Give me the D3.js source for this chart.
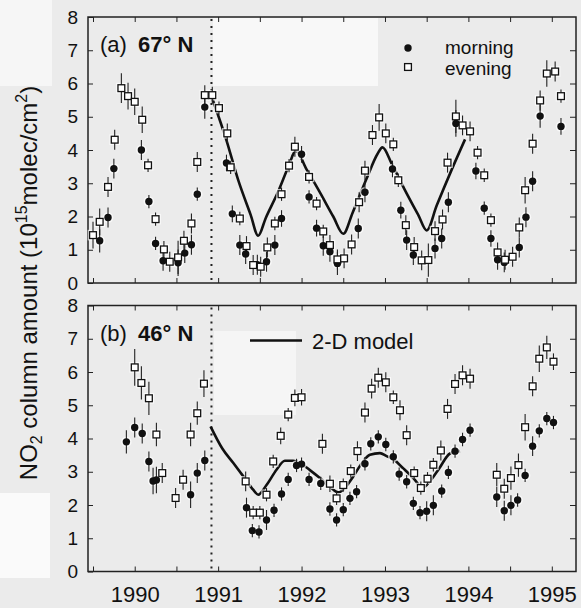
<!DOCTYPE html>
<html><head><meta charset="utf-8">
<script src="https://cdn.jsdelivr.net/npm/d3@7"></script>
<style>body{margin:0;background:#ebebeb}svg{display:block}text{font-family:"Liberation Sans",Arial,Helvetica,sans-serif;fill:#111}</style>
</head><body><svg id="c" width="581" height="608"></svg>
<script>
// ---- data: [year, NO2 (1e15 molec/cm2), error] ----
const yearTicks = [1990, 1991, 1992, 1993, 1994, 1995];
const halfYearTicks = [1989.5,1990,1990.5,1991,1991.5,1992,1992.5,1993,1993.5,1994,1994.5,1995];
const valueTicks = [0,1,2,3,4,5,6,7,8];
const pinatuboYear = 1990.92;

const topMorning = [[1989.58,1.27,.35],[1989.68,1.97,.3],[1989.75,3.44,.3],[1990.08,4.00,.3],[1990.17,2.45,.2],[1990.25,1.19,.2],[1990.34,0.67,.3],[1990.52,0.61,.4],[1990.60,0.90,.3],[1990.68,1.15,.3],[1990.75,2.67,.2],[1990.84,5.29,.35],[1991.10,3.61,.25],[1991.17,2.08,.25],[1991.26,1.14,.3],[1991.33,0.87,.3],[1991.47,0.55,.3],[1991.58,0.64,.3],[1991.68,1.14,.3],[1991.76,1.94,.25],[1992.00,3.87,.25],[1992.09,2.59,.2],[1992.18,1.65,.25],[1992.26,1.12,.3],[1992.34,0.94,.3],[1992.43,0.59,.35],[1992.68,1.64,.3],[1992.76,2.73,.3],[1993.09,3.43,.25],[1993.19,2.19,.25],[1993.26,1.29,.3],[1993.34,0.84,.3],[1993.60,1.04,.3],[1993.68,1.34,.3],[1993.76,2.43,.3],[1993.85,4.80,.4],[1994.09,3.37,.25],[1994.19,2.25,.2],[1994.27,1.34,.25],[1994.35,0.70,.3],[1994.43,0.62,.3],[1994.61,1.07,.3],[1994.69,1.98,.3],[1994.77,3.06,.3],[1994.86,5.02,.35],[1995.11,4.71,.25]];
const topEvening = [[1989.50,1.44,.4],[1989.58,1.84,.4],[1989.68,2.89,.3],[1989.76,4.31,.3],[1989.84,5.86,.45],[1989.92,5.62,.4],[1990.00,5.45,.4],[1990.09,4.91,.4],[1990.16,3.54,.2],[1990.25,1.92,.2],[1990.35,1.01,.25],[1990.42,0.64,.3],[1990.52,0.77,.5],[1990.59,1.27,.3],[1990.68,1.79,.3],[1990.75,3.64,.3],[1990.84,5.65,.3],[1990.93,5.65,.25],[1991.01,5.26,.2],[1991.11,4.50,.3],[1991.15,3.48,.2],[1991.26,1.94,.2],[1991.34,1.11,.3],[1991.42,0.54,.3],[1991.51,0.49,.3],[1991.59,1.07,.3],[1991.68,1.79,.2],[1991.76,2.67,.2],[1991.85,3.53,.2],[1991.92,4.10,.3],[1992.09,3.19,.2],[1992.18,2.39,.2],[1992.26,1.55,.2],[1992.34,1.14,.3],[1992.43,0.71,.3],[1992.51,0.74,.3],[1992.60,1.16,.3],[1992.69,2.43,.3],[1992.76,3.38,.3],[1992.85,4.45,.3],[1992.93,4.98,.4],[1993.01,4.50,.3],[1993.10,4.17,.2],[1993.16,3.09,.2],[1993.25,1.74,.3],[1993.35,1.08,.3],[1993.44,0.68,.3],[1993.52,0.69,.5],[1993.60,1.56,.3],[1993.69,1.91,.3],[1993.75,3.62,.3],[1993.85,5.01,.5],[1993.93,4.74,.3],[1994.02,4.56,.3],[1994.11,3.92,.2],[1994.19,3.24,.2],[1994.27,1.89,.2],[1994.35,0.92,.3],[1994.44,0.70,.3],[1994.53,0.79,.3],[1994.61,1.67,.3],[1994.68,2.79,.4],[1994.77,4.19,.3],[1994.86,5.49,.3],[1994.94,6.30,.4],[1995.04,6.36,.3],[1995.11,5.62,.2]];
const topModel = [[1990.93,5.55],[1991.10,4.29],[1991.24,3.10],[1991.39,2.05],[1991.48,1.42],[1991.57,1.95],[1991.72,2.75],[1991.85,3.55],[1991.93,3.98],[1992.06,3.42],[1992.21,2.77],[1992.38,2.00],[1992.50,1.48],[1992.61,2.10],[1992.78,3.14],[1992.91,3.88],[1992.97,4.08],[1993.08,3.59],[1993.23,2.84],[1993.40,2.04],[1993.50,1.58],[1993.62,2.33],[1993.80,3.41],[1993.96,4.32]];

const botMorning = [[1989.90,3.90,.35],[1990.00,4.33,.3],[1990.09,4.15,.3],[1990.17,3.31,.3],[1990.22,2.72,.4],[1990.26,2.75,.4],[1990.67,2.31,.4],[1990.75,2.96,.3],[1990.84,3.34,.3],[1991.34,1.92,.3],[1991.41,1.23,.2],[1991.49,1.19,.2],[1991.58,1.55,.3],[1991.67,1.84,.2],[1991.76,2.33,.2],[1991.84,2.77,.2],[1991.94,3.19,.2],[1992.00,3.23,.2],[1992.09,2.77,.2],[1992.23,2.65,.2],[1992.34,1.88,.2],[1992.42,1.55,.2],[1992.50,1.86,.2],[1992.58,2.20,.2],[1992.66,2.40,.2],[1992.76,3.24,.2],[1992.83,3.84,.2],[1992.92,4.05,.2],[1993.01,3.82,.2],[1993.10,3.45,.2],[1993.17,2.93,.2],[1993.26,2.70,.2],[1993.34,2.05,.2],[1993.42,1.77,.2],[1993.50,1.81,.3],[1993.58,1.99,.3],[1993.68,2.42,.2],[1993.76,2.98,.2],[1993.84,3.62,.2],[1993.93,3.97,.2],[1994.02,4.25,.2],[1994.34,2.24,.3],[1994.43,1.83,.3],[1994.51,1.99,.3],[1994.59,2.15,.2],[1994.68,2.89,.2],[1994.77,3.77,.3],[1994.85,4.23,.2],[1994.94,4.60,.2],[1995.02,4.48,.2]];
const botEvening = [[1990.00,6.14,.55],[1990.08,5.67,.5],[1990.17,5.21,.5],[1990.26,4.12,.35],[1990.33,2.96,.3],[1990.49,2.21,.3],[1990.58,2.76,.3],[1990.67,4.12,.35],[1990.75,4.76,.35],[1990.83,5.65,.4],[1991.33,2.71,.3],[1991.42,1.77,.2],[1991.50,1.77,.2],[1991.58,2.31,.2],[1991.66,3.31,.2],[1991.75,4.08,.25],[1991.84,4.72,.2],[1991.92,5.22,.25],[1992.00,5.24,.25],[1992.25,3.84,.3],[1992.34,2.64,.25],[1992.42,2.20,.2],[1992.50,2.60,.2],[1992.59,3.02,.2],[1992.67,3.62,.3],[1992.76,4.78,.3],[1992.84,5.50,.3],[1992.92,5.83,.3],[1993.01,5.69,.3],[1993.10,5.24,.2],[1993.18,4.85,.3],[1993.26,4.10,.3],[1993.35,2.96,.2],[1993.43,2.51,.2],[1993.51,2.79,.2],[1993.58,3.21,.2],[1993.67,3.64,.3],[1993.75,4.89,.3],[1993.84,5.64,.3],[1993.93,5.90,.3],[1994.02,5.80,.3],[1994.34,2.91,.35],[1994.43,2.49,.3],[1994.51,2.81,.35],[1994.60,3.20,.35],[1994.68,4.34,.4],[1994.77,5.57,.3],[1994.85,6.40,.4],[1994.94,6.74,.35],[1995.02,6.31,.25]];
const botModel = [[1990.91,4.36],[1991.05,3.70],[1991.18,3.27],[1991.32,2.80],[1991.42,2.46],[1991.48,2.31],[1991.58,2.60],[1991.70,3.06],[1991.80,3.33],[1991.90,3.33],[1991.98,3.26],[1992.10,3.05],[1992.22,2.81],[1992.34,2.55],[1992.44,2.38],[1992.53,2.55],[1992.62,2.86],[1992.72,3.25],[1992.82,3.51],[1992.94,3.56],[1993.02,3.47],[1993.10,3.38],[1993.22,3.10],[1993.34,2.81],[1993.45,2.52],[1993.55,2.75],[1993.65,3.10],[1993.78,3.55],[1993.90,3.62]];

// ---- drawing ----
const svg = d3.select("#c");
const X0 = 88, X1 = 576;
const x = d3.scaleLinear().domain([1989.44, 1995.29]).range([X0, X1]);

// scan artifacts (lighter paper patches)
const patches = [[0,0,52,86,"#f6f6f6"],[213,18,165,68,"#f8f8f8"],[214,331,82,84,"#f5f5f5"],[0,493,50,85,"#fafafa"]];
svg.selectAll("rect.patch").data(patches).join("rect").attr("class","patch")
  .attr("x",d=>d[0]).attr("y",d=>d[1]).attr("width",d=>d[2]).attr("height",d=>d[3]).attr("fill",d=>d[4]);

function panel(top, bottom, morning, evening, model, label, lat, showYears) {
  const y = d3.scaleLinear().domain([0, 8]).range([bottom, top]);
  const g = svg.append("g");
  g.append("g").attr("transform",`translate(${X0},0)`)
    .call(d3.axisLeft(y).tickValues(valueTicks).tickSize(-5).tickPadding(10).tickFormat(d3.format("d")))
    .call(a=>{a.select(".domain").remove(); a.selectAll("text").attr("font-size",19).attr("font-family","Liberation Sans, Arial").attr("fill","#111"); a.selectAll("line").attr("stroke","#222");});
  g.append("g").attr("transform",`translate(${X1},0)`)
    .call(d3.axisRight(y).tickValues(valueTicks.slice(1,-1)).tickSize(-6).tickFormat(""))
    .call(a=>{a.select(".domain").remove(); a.selectAll("line").attr("stroke","#222");});
  g.append("g").attr("transform",`translate(0,${top})`)
    .call(d3.axisTop(x).tickValues(halfYearTicks).tickSize(-5).tickFormat(""))
    .call(a=>{a.select(".domain").remove(); a.selectAll("line").attr("stroke","#222");});
  g.append("g").attr("transform",`translate(0,${bottom})`)
    .call(d3.axisBottom(x).tickValues(halfYearTicks).tickSize(-5).tickPadding(15)
      .tickFormat(d => (showYears && yearTicks.includes(d)) ? String(d) : ""))
    .call(a=>{a.select(".domain").remove(); a.selectAll("text").attr("font-size",22).attr("font-family","Liberation Sans, Arial").attr("fill","#111"); a.selectAll("line").attr("stroke","#222");});
  g.append("rect").attr("x",X0).attr("y",top).attr("width",X1-X0).attr("height",bottom-top)
    .attr("fill","none").attr("stroke","#222").attr("stroke-width",1.5);
  g.append("line").attr("x1",x(pinatuboYear)).attr("x2",x(pinatuboYear)).attr("y1",top+2).attr("y2",bottom)
    .attr("stroke","#222").attr("stroke-width",2).attr("stroke-dasharray","2,5");
  g.append("path").datum(model).attr("fill","none").attr("stroke","#111").attr("stroke-width",2.6)
    .attr("d", d3.line().x(d=>x(d[0])).y(d=>y(d[1])).curve(d3.curveMonotoneX));
  const all = morning.concat(evening);
  g.selectAll("circle.halo").data(morning).join("circle").attr("class","halo")
    .attr("cx",d=>x(d[0])).attr("cy",d=>y(d[1])).attr("r",5.3).attr("fill","#fff").attr("opacity",0.7);
  g.selectAll("rect.halo").data(evening).join("rect").attr("class","halo")
    .attr("x",d=>x(d[0])-5.3).attr("y",d=>y(d[1])-5.3).attr("width",10.6).attr("height",10.6).attr("fill","#fff").attr("opacity",0.7);
  g.selectAll("line.err").data(all).join("line").attr("class","err")
    .attr("x1",d=>x(d[0])).attr("x2",d=>x(d[0])).attr("y1",d=>y(d[1]-d[2])).attr("y2",d=>y(d[1]+d[2]))
    .attr("stroke","#222").attr("stroke-width",1.1);
  g.selectAll("circle.m").data(morning).join("circle").attr("class","m")
    .attr("cx",d=>x(d[0])).attr("cy",d=>y(d[1])).attr("r",3.7).attr("fill","#111");
  g.selectAll("rect.e").data(evening).join("rect").attr("class","e")
    .attr("x",d=>x(d[0])-3.4).attr("y",d=>y(d[1])-3.4).attr("width",6.8).attr("height",6.8)
    .attr("fill","#fff").attr("stroke","#111").attr("stroke-width",1.3);
  const lb = g.append("text").attr("x",100).attr("y",top+35).attr("font-size",22);
  lb.append("tspan").text(label);
  lb.append("tspan").attr("x",138).attr("font-weight","bold").text(lat);
  return y;
}

panel(17, 283, topMorning, topEvening, topModel, "(a)", "67° N", false);
panel(305.5, 571.5, botMorning, botEvening, botModel, "(b)", "46° N", true);

// legend (a)
svg.append("circle").attr("cx",408).attr("cy",48).attr("r",3.7).attr("fill","#111");
svg.append("rect").attr("x",404.6).attr("y",63.6).attr("width",6.8).attr("height",6.8).attr("fill","#fff").attr("stroke","#111").attr("stroke-width",1.3);
svg.append("text").attr("x",445).attr("y",54).attr("font-size",19).text("morning");
svg.append("text").attr("x",445).attr("y",75).attr("font-size",19).text("evening");
// legend (b)
svg.append("line").attr("x1",250).attr("x2",302).attr("y1",340.5).attr("y2",340.5).attr("stroke","#111").attr("stroke-width",2.6);
svg.append("text").attr("x",312).attr("y",349).attr("font-size",22).text("2-D model");

// y axis title
const t = svg.append("text").attr("transform","translate(37,283) rotate(-90)").attr("text-anchor","middle").attr("font-size",24);
t.append("tspan").text("NO");
t.append("tspan").attr("font-size",16).attr("dy",5).text("2");
t.append("tspan").attr("dy",-5).text(" column amount (10");
t.append("tspan").attr("font-size",16).attr("dy",-10).text("15");
t.append("tspan").attr("dy",10).text("molec/cm");
t.append("tspan").attr("font-size",16).attr("dy",-10).text("2");
t.append("tspan").attr("dy",10).text(")");
</script></body></html>
